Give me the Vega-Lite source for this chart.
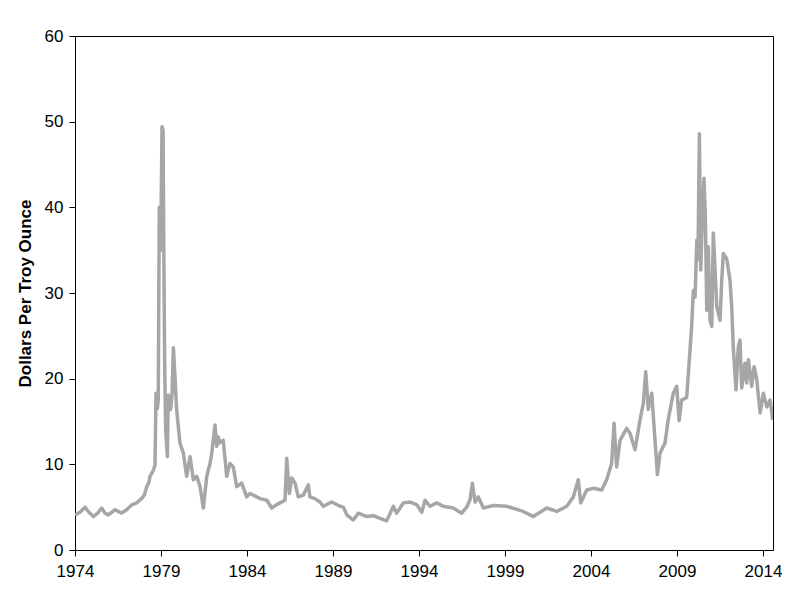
{
  "$schema": "https://vega.github.io/schema/vega-lite/v6.json",
  "width": 698,
  "height": 514,
  "autosize": {"type": "none"},
  "padding": {"left": 75, "top": 36, "right": 19, "bottom": 62},
  "background": "white",
  "config": {
    "view": {"stroke": "#000000", "strokeWidth": 1},
    "axis": {
      "domainColor": "#000000",
      "tickColor": "#000000",
      "labelColor": "#000000",
      "titleColor": "#000000",
      "labelFont": "Liberation Sans",
      "titleFont": "Liberation Sans",
      "grid": false,
      "tickSize": 6,
      "labelFlush": false,
      "labelOverlap": false
    }
  },
  "data": {
    "values": [
      {"year": 1974.00, "price": 4.1},
      {"year": 1974.29, "price": 4.4},
      {"year": 1974.58, "price": 5.0},
      {"year": 1974.81, "price": 4.4},
      {"year": 1975.07, "price": 3.9},
      {"year": 1975.32, "price": 4.3},
      {"year": 1975.55, "price": 4.9},
      {"year": 1975.74, "price": 4.3},
      {"year": 1975.94, "price": 4.1},
      {"year": 1976.33, "price": 4.7},
      {"year": 1976.71, "price": 4.3},
      {"year": 1977.00, "price": 4.7},
      {"year": 1977.29, "price": 5.25},
      {"year": 1977.58, "price": 5.5},
      {"year": 1977.87, "price": 6.0},
      {"year": 1978.03, "price": 6.4},
      {"year": 1978.17, "price": 7.4},
      {"year": 1978.30, "price": 7.9},
      {"year": 1978.36, "price": 8.6},
      {"year": 1978.55, "price": 9.3},
      {"year": 1978.65, "price": 9.9},
      {"year": 1978.71, "price": 18.3},
      {"year": 1978.79, "price": 16.5},
      {"year": 1978.84, "price": 17.5},
      {"year": 1978.90, "price": 40.0},
      {"year": 1978.98, "price": 35.0},
      {"year": 1979.06, "price": 49.4},
      {"year": 1979.12, "price": 49.0},
      {"year": 1979.16, "price": 35.8},
      {"year": 1979.21, "price": 22.2},
      {"year": 1979.27, "price": 14.0},
      {"year": 1979.37, "price": 10.9},
      {"year": 1979.42, "price": 18.1},
      {"year": 1979.48, "price": 16.7},
      {"year": 1979.56, "price": 16.4},
      {"year": 1979.64, "price": 18.1},
      {"year": 1979.72, "price": 23.6},
      {"year": 1979.81, "price": 20.3},
      {"year": 1979.91, "price": 16.4},
      {"year": 1980.10, "price": 12.5},
      {"year": 1980.30, "price": 11.3},
      {"year": 1980.49, "price": 8.6},
      {"year": 1980.69, "price": 10.9},
      {"year": 1980.88, "price": 8.2},
      {"year": 1981.08, "price": 8.6},
      {"year": 1981.27, "price": 7.4},
      {"year": 1981.46, "price": 4.9},
      {"year": 1981.66, "price": 8.6},
      {"year": 1981.85, "price": 10.1},
      {"year": 1981.95, "price": 11.3},
      {"year": 1982.14, "price": 14.6},
      {"year": 1982.24, "price": 12.1},
      {"year": 1982.33, "price": 13.2},
      {"year": 1982.43, "price": 12.5},
      {"year": 1982.62, "price": 12.8},
      {"year": 1982.82, "price": 8.6},
      {"year": 1983.01, "price": 10.1},
      {"year": 1983.20, "price": 9.7},
      {"year": 1983.40, "price": 7.4},
      {"year": 1983.69, "price": 7.8},
      {"year": 1983.98, "price": 6.2},
      {"year": 1984.17, "price": 6.6},
      {"year": 1984.56, "price": 6.2},
      {"year": 1984.76, "price": 6.0},
      {"year": 1985.15, "price": 5.8},
      {"year": 1985.44, "price": 4.9},
      {"year": 1985.73, "price": 5.3},
      {"year": 1985.92, "price": 5.5},
      {"year": 1986.21, "price": 5.8},
      {"year": 1986.31, "price": 10.7},
      {"year": 1986.46, "price": 6.6},
      {"year": 1986.60, "price": 8.4},
      {"year": 1986.79, "price": 7.8},
      {"year": 1986.98, "price": 6.2},
      {"year": 1987.27, "price": 6.4},
      {"year": 1987.56, "price": 7.6},
      {"year": 1987.66, "price": 6.2},
      {"year": 1987.95, "price": 6.0},
      {"year": 1988.24, "price": 5.6},
      {"year": 1988.44, "price": 5.1},
      {"year": 1988.92, "price": 5.6},
      {"year": 1989.41, "price": 5.1},
      {"year": 1989.60, "price": 5.0},
      {"year": 1989.80, "price": 4.1},
      {"year": 1990.18, "price": 3.5},
      {"year": 1990.47, "price": 4.3},
      {"year": 1990.96, "price": 3.9},
      {"year": 1991.34, "price": 4.0},
      {"year": 1991.73, "price": 3.7},
      {"year": 1992.12, "price": 3.4},
      {"year": 1992.51, "price": 5.1},
      {"year": 1992.70, "price": 4.3},
      {"year": 1993.09, "price": 5.5},
      {"year": 1993.48, "price": 5.6},
      {"year": 1993.87, "price": 5.3},
      {"year": 1994.16, "price": 4.4},
      {"year": 1994.35, "price": 5.8},
      {"year": 1994.64, "price": 5.1},
      {"year": 1995.03, "price": 5.5},
      {"year": 1995.41, "price": 5.1},
      {"year": 1995.99, "price": 4.9},
      {"year": 1996.48, "price": 4.3},
      {"year": 1996.77, "price": 5.0},
      {"year": 1996.97, "price": 5.9},
      {"year": 1997.10, "price": 7.8},
      {"year": 1997.26, "price": 5.6},
      {"year": 1997.45, "price": 6.2},
      {"year": 1997.74, "price": 4.9},
      {"year": 1998.32, "price": 5.2},
      {"year": 1999.10, "price": 5.1},
      {"year": 2000.06, "price": 4.5},
      {"year": 2000.65, "price": 3.9},
      {"year": 2001.42, "price": 4.9},
      {"year": 2002.01, "price": 4.5},
      {"year": 2002.59, "price": 5.1},
      {"year": 2002.97, "price": 6.2},
      {"year": 2003.26, "price": 8.2},
      {"year": 2003.40, "price": 5.5},
      {"year": 2003.75, "price": 7.0},
      {"year": 2004.13, "price": 7.2},
      {"year": 2004.62, "price": 7.0},
      {"year": 2004.91, "price": 8.2},
      {"year": 2005.20, "price": 10.1},
      {"year": 2005.34, "price": 14.8},
      {"year": 2005.49, "price": 9.7},
      {"year": 2005.69, "price": 12.8},
      {"year": 2006.07, "price": 14.2},
      {"year": 2006.27, "price": 13.6},
      {"year": 2006.56, "price": 11.7},
      {"year": 2006.85, "price": 15.2},
      {"year": 2007.04, "price": 17.1},
      {"year": 2007.18, "price": 20.8},
      {"year": 2007.33, "price": 16.4},
      {"year": 2007.53, "price": 18.3},
      {"year": 2007.72, "price": 12.8},
      {"year": 2007.86, "price": 8.8},
      {"year": 2008.01, "price": 11.3},
      {"year": 2008.30, "price": 12.5},
      {"year": 2008.49, "price": 15.2},
      {"year": 2008.78, "price": 18.3},
      {"year": 2008.98, "price": 19.1},
      {"year": 2009.12, "price": 15.1},
      {"year": 2009.27, "price": 17.5},
      {"year": 2009.56, "price": 17.8},
      {"year": 2009.66, "price": 20.6},
      {"year": 2009.85, "price": 26.1},
      {"year": 2009.95, "price": 30.3},
      {"year": 2010.05, "price": 29.5},
      {"year": 2010.15, "price": 36.2},
      {"year": 2010.22, "price": 33.9},
      {"year": 2010.30, "price": 48.6},
      {"year": 2010.38, "price": 32.7},
      {"year": 2010.49, "price": 40.0},
      {"year": 2010.57, "price": 43.4},
      {"year": 2010.65, "price": 38.5},
      {"year": 2010.73, "price": 28.0},
      {"year": 2010.82, "price": 35.4},
      {"year": 2010.92, "price": 26.8},
      {"year": 2011.02, "price": 26.1},
      {"year": 2011.11, "price": 37.0},
      {"year": 2011.21, "price": 32.7},
      {"year": 2011.31, "price": 28.4},
      {"year": 2011.50, "price": 26.8},
      {"year": 2011.60, "price": 31.5},
      {"year": 2011.69, "price": 34.6},
      {"year": 2011.89, "price": 34.0},
      {"year": 2012.08, "price": 31.5},
      {"year": 2012.18, "price": 28.4},
      {"year": 2012.27, "price": 23.7},
      {"year": 2012.43, "price": 18.7},
      {"year": 2012.56, "price": 23.7},
      {"year": 2012.66, "price": 24.5},
      {"year": 2012.76, "price": 18.9},
      {"year": 2012.95, "price": 21.8},
      {"year": 2013.05, "price": 19.5},
      {"year": 2013.15, "price": 22.2},
      {"year": 2013.34, "price": 19.1},
      {"year": 2013.48, "price": 21.4},
      {"year": 2013.63, "price": 20.0},
      {"year": 2013.83, "price": 16.0},
      {"year": 2014.02, "price": 18.3},
      {"year": 2014.22, "price": 16.7},
      {"year": 2014.41, "price": 17.5},
      {"year": 2014.51, "price": 16.0},
      {"year": 2014.56, "price": 15.2}
    ]
  },
  "mark": {"type": "line", "color": "#a6a6a6", "strokeWidth": 3.5, "strokeJoin": "round", "clip": true},
  "encoding": {
    "x": {
      "field": "year",
      "type": "quantitative",
      "scale": {"domain": [1974, 2014.58], "nice": false, "zero": false},
      "axis": {
        "values": [1974, 1979, 1984, 1989, 1994, 1999, 2004, 2009, 2014],
        "format": "d",
        "title": null,
        "labelFontSize": 17,
        "labelPadding": 7
      }
    },
    "y": {
      "field": "price",
      "type": "quantitative",
      "scale": {"domain": [0, 60], "nice": false},
      "axis": {
        "values": [0, 10, 20, 30, 40, 50, 60],
        "title": "Dollars Per Troy Ounce",
        "labelFontSize": 17,
        "labelPadding": 6,
        "titleFontSize": 17,
        "titleFontWeight": "bold",
        "titlePadding": 10
      }
    }
  }
}
